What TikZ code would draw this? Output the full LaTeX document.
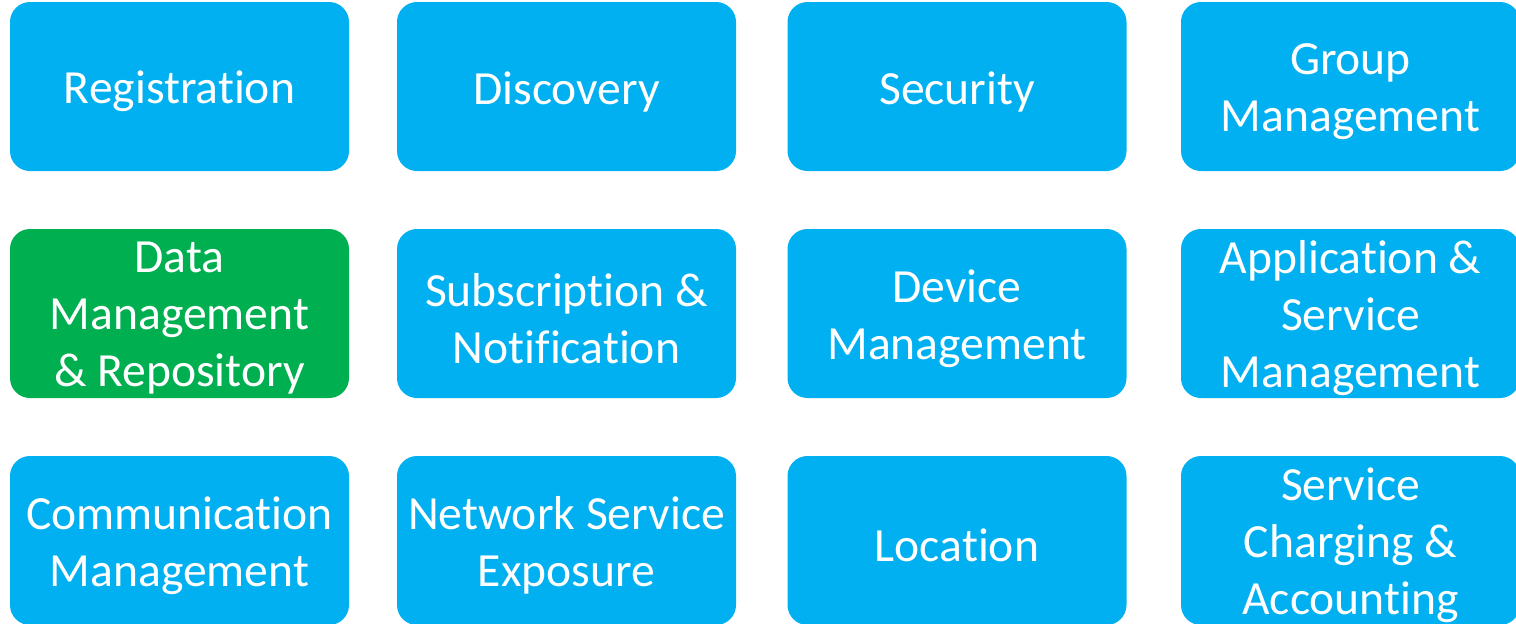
\documentclass[tikz,border=0pt]{standalone}
\usepackage{fontspec}
\setmainfont[Ligatures=NoCommon]{Carlito}
\usepackage{tikz}
\definecolor{fnblue}{HTML}{00B0F0}
\definecolor{fngreen}{HTML}{00B050}
\tikzset{
  fnbox/.style={fill=fnblue, draw=none, rounded corners=10pt, minimum width=169.5pt,
    minimum height=84.5pt, inner sep=0pt},
  fndata/.style={fnbox, fill=fngreen},
  fntext/.style={align=center, text=white, inner sep=0pt,
    font=\fontsize{23.8}{28.5}\selectfont}
}
% box with its label set a little below the middle
\def\fnblock[#1](#2)(#3)#4{\node[#1] (#3) at (#2) {}; \node[fntext] (#3-t) at ([yshift=-2.5pt]#3.center) {#4};}

\begin{document}
\begin{tikzpicture}[x=0.5pt, y=-0.5pt]
		%%%%% FRAME %%%%%
		\useasboundingbox (0, 0) rectangle (1516, 623);
		\clip (0, 0) rectangle (1516, 623);
		
		%%%%% ROW 1 %%%%%
		\fnblock[fnbox](179.5, 86.5)(reg){Registration}
		\fnblock[fnbox](566.5, 86.5)(disc){Discovery}
		\fnblock[fnbox](957, 86.5)(sec){Security}
		\fnblock[fnbox](1350.5, 86.5)(grp){Group\\Management}
		
		%%%%% ROW 2 %%%%%
		\fnblock[fndata](179.5, 313.5)(data){Data\\Management\\\& Repository}
		\fnblock[fnbox](566.5, 313.5)(subs){Subscription \&\\Notification}
		\fnblock[fnbox](957, 313.5)(dev){Device\\Management}
		\fnblock[fnbox](1350.5, 313.5)(app){Application \&\\Service\\Management}
		
		%%%%% ROW 3 %%%%%
		\fnblock[fnbox](179.5, 540.5)(comm){Communication\\Management}
		\fnblock[fnbox](566.5, 540.5)(nse){Network Service\\Exposure}
		\fnblock[fnbox](957, 540.5)(loc){Location}
		\fnblock[fnbox](1350.5, 540.5)(chg){Service\\Charging \&\\Accounting}
	\end{tikzpicture}
\end{document}
